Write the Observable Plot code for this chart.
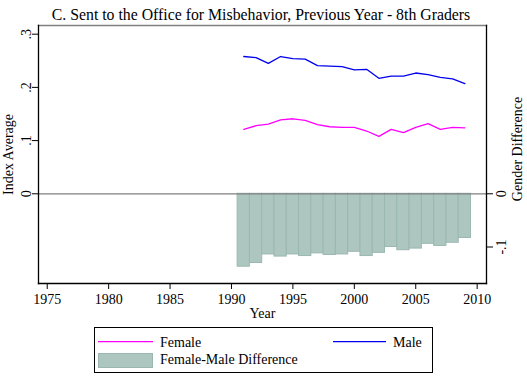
<!DOCTYPE html>
<html><head><meta charset="utf-8">
<script src="https://cdn.jsdelivr.net/npm/d3@7"></script>
<script src="https://cdn.jsdelivr.net/npm/@observablehq/plot@0.6"></script>
<style>
body{margin:0;background:#fff;}
#wrap{position:relative;width:527px;height:378px;overflow:hidden;}
#chart{position:absolute;left:0;top:0;}
#legend{position:absolute;left:0;top:0;}
</style></head><body>
<div id="wrap">
  <div id="chart"></div>
  <div id="legend"></div>
</div>
<script>
const years = [1991,1992,1993,1994,1995,1996,1997,1998,1999,2000,2001,2002,2003,2004,2005,2006,2007,2008,2009];
const female = [0.121,0.128,0.131,0.139,0.141,0.138,0.130,0.126,0.125,0.125,0.118,0.108,0.121,0.115,0.125,0.132,0.121,0.125,0.124];
const male = [0.258,0.256,0.245,0.258,0.254,0.253,0.241,0.240,0.239,0.233,0.234,0.217,0.221,0.221,0.227,0.224,0.219,0.216,0.207];
const diff = [-0.137,-0.130,-0.114,-0.118,-0.114,-0.117,-0.112,-0.115,-0.114,-0.109,-0.117,-0.111,-0.100,-0.106,-0.103,-0.094,-0.098,-0.092,-0.083];
const xTicks = [1975,1980,1985,1990,1995,2000,2005,2010];
const yTicksLeft = [0,0.1,0.2,0.3];
const yTicksRight = [-0.1,0];
const titleText = "C. Sent to the Office for Misbehavior, Previous Year - 8th Graders";
const colFemale = "#ff00ff", colMale = "#0000ee", colDiff = "#adc6c0", colDiffStroke = "#9ab8b0";

const rows = years.map((y,i)=>({year:y,female:female[i],male:male[i],diff:diff[i]}));
const fmt = d => d === 0 ? "0" : (d < 0 ? "-" : "") + String(Math.abs(d)).replace(/^0/, "");
const font = "Liberation Serif, Times New Roman, serif";

const chart = Plot.plot({
  width: 527, height: 378,
  marginLeft: 38, marginRight: 41, marginTop: 25, marginBottom: 95,
  style: {fontFamily: font, fontSize: "14px", color: "black", background: "white", overflow: "visible"},
  x: {domain: [1974.29, 2010.76]},
  y: {domain: [-0.1686, 0.3163]},
  marks: [
    Plot.rect(rows, {x1: d => d.year - 0.5, x2: d => d.year + 0.5, y1: 0, y2: "diff", fill: colDiff, stroke: colDiffStroke, strokeWidth: 1}),
    Plot.ruleY([0], {stroke: "#7f7f7f", strokeWidth: 1.3}),
    Plot.lineY(rows, {x: "year", y: "female", stroke: colFemale, strokeWidth: 1.3}),
    Plot.lineY(rows, {x: "year", y: "male", stroke: colMale, strokeWidth: 1.3}),
    Plot.frame({anchor: "top", stroke: "#7f7f7f", strokeWidth: 1.3}),
    Plot.frame({anchor: "left", stroke: "#000", strokeWidth: 1.3}),
    Plot.frame({anchor: "right", stroke: "#000", strokeWidth: 1.3}),
    Plot.frame({anchor: "bottom", stroke: "#000", strokeWidth: 1.3}),
    Plot.axisX({ticks: xTicks, tickSize: 6, tickPadding: 5, tickFormat: d => String(d), label: null, fontSize: 14, fontFamily: font}),
    Plot.axisY({anchor: "left", ticks: yTicksLeft, tickSize: 6, tickFormat: () => "", label: null}),
    Plot.axisY({anchor: "right", ticks: yTicksRight, tickSize: 6, tickFormat: () => "", label: null}),
    Plot.text(yTicksLeft, {y: d => d, text: fmt, frameAnchor: "left", dx: -7.3, rotate: -90, textAnchor: "middle", lineAnchor: "bottom", fontSize: 14, fontFamily: font}),
    Plot.text(yTicksRight, {y: d => d, text: fmt, frameAnchor: "right", dx: 19, rotate: -90, textAnchor: "middle", lineAnchor: "bottom", fontSize: 14, fontFamily: font}),
    Plot.text(["Index Average"], {frameAnchor: "left", dx: -25.5, rotate: -90, textAnchor: "middle", lineAnchor: "bottom", fontSize: 14, fontFamily: font}),
    Plot.text(["Gender Difference"], {frameAnchor: "right", dx: 35.5, dy: -5.5, rotate: -90, textAnchor: "middle", lineAnchor: "bottom", fontSize: 14, fontFamily: font}),
    Plot.text(["Year"], {frameAnchor: "bottom", dy: 34, textAnchor: "middle", lineAnchor: "bottom", fontSize: 14, fontFamily: font}),
    Plot.text([titleText], {frameAnchor: "top", dx: -1.5, dy: -6, textAnchor: "middle", lineAnchor: "bottom", fontSize: 15.8, fontFamily: font})
  ]
});
document.getElementById("chart").appendChild(chart);

// legend (below the plot area)
const lg = d3.create("svg").attr("width", 527).attr("height", 378)
  .attr("font-family", font).attr("font-size", 14);
lg.append("rect").attr("x", 94.5).attr("y", 327.5).attr("width", 338).attr("height", 45)
  .attr("fill", "none").attr("stroke", "#000").attr("stroke-width", 1);
lg.append("line").attr("x1", 98).attr("x2", 153).attr("y1", 341.7).attr("y2", 341.7)
  .attr("stroke", colFemale).attr("stroke-width", 1.3);
lg.append("text").attr("x", 160).attr("y", 347).text("Female");
lg.append("line").attr("x1", 333).attr("x2", 386).attr("y1", 341.7).attr("y2", 341.7)
  .attr("stroke", colMale).attr("stroke-width", 1.3);
lg.append("text").attr("x", 393).attr("y", 347).text("Male");
lg.append("rect").attr("x", 98.5).attr("y", 353.5).attr("width", 54).attr("height", 14)
  .attr("fill", colDiff).attr("stroke", colDiffStroke).attr("stroke-width", 1);
lg.append("text").attr("x", 160).attr("y", 364).text("Female-Male Difference");
document.getElementById("legend").appendChild(lg.node());
</script>
</body></html>
